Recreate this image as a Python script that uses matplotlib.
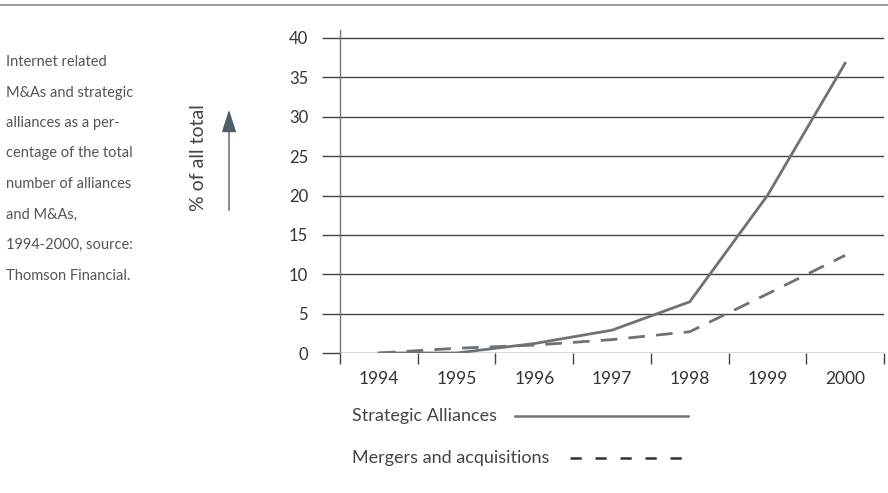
import matplotlib
matplotlib.use("Agg")
import matplotlib.pyplot as plt
import numpy as np

plt.rcParams['font.family'] = ['Lato', 'DejaVu Sans']

years = ['1994', '1995', '1996', '1997', '1998', '1999', '2000']
alliances = [0.0, 0.0, 1.2, 2.9, 6.5, 20.0, 36.8]
mergers = [0.0, 0.6, 1.0, 1.7, 2.7, 7.5, 12.4]
yticks = [0, 5, 10, 15, 20, 25, 30, 35, 40]

caption = ["Internet related", "M&As and strategic", "alliances as a per-",
           "centage of the total", "number of alliances", "and M&As,",
           "1994-2000, source:", "Thomson Financial."]

text_col = '#555555'
line_col = '#6c7276'
grid_col = '#444444'

fig = plt.figure(figsize=(8.88, 4.93), dpi=100)
W, H = 888, 493
ymax = 40 + 8 / 7.875
ax = fig.add_axes([340 / W, 1 - 353 / H, (884 - 340) / W, (353 - 30) / H])

x = np.arange(len(years))
ax.plot(x, alliances, color=line_col, lw=2.0, solid_joinstyle='miter')
ax.plot(x, mergers, color=line_col, lw=2.0, dashes=(6, 4))

ax.set_xlim(-0.5, len(years) - 0.5)
ax.set_ylim(0, ymax)
ax.set_yticks(yticks)
ax.set_yticklabels([str(v) for v in yticks], fontsize=12, color='#333333')
ax.tick_params(axis='y', length=13, width=1, color=grid_col, pad=10)
for v in yticks:
    ax.axhline(v, color=grid_col, lw=1.0, zorder=0)

# category boundaries carry the tick marks, labels sit between them
ax.set_xticks(np.arange(-0.5, len(years)), minor=False)
ax.set_xticklabels([])
ax.set_xticks(x, minor=True)
ax.set_xticklabels(years, minor=True, fontsize=12.5, color='#333333')
ax.tick_params(axis='x', which='major', length=8, width=1, color=grid_col, direction='out')
ax.tick_params(axis='x', which='minor', length=0, pad=13)

for s in ['top', 'right', 'bottom']:
    ax.spines[s].set_visible(False)
ax.spines['left'].set_color('#777777')
ax.spines['left'].set_linewidth(1.0)

# thin rule across the top of the page
fig.add_artist(plt.Line2D([0, 1], [1 - 5 / H, 1 - 5 / H], color='#888888', lw=1.2))

for i, line in enumerate(caption):
    fig.text(6 / W, 1 - (62 + i * 30.5) / H, line, fontsize=10.5, color=text_col, va='center')

fig.text(199 / W, 1 - 158 / H, "% of all total", rotation=90, fontsize=14,
         color='#444444', ha='center', va='center')
fig.add_artist(matplotlib.patches.FancyArrowPatch(
    (229 / W, 1 - 213 / H), (229 / W, 1 - 107 / H), transform=fig.transFigure,
    arrowstyle='-|>,head_length=14,head_width=4.5', color='#4e5e68', lw=1.0,
    mutation_scale=1))

# legend drawn by hand below the axis
fig.text(352 / W, 1 - 416 / H, "Strategic Alliances", fontsize=13, color='#444444', va='center')
fig.add_artist(plt.Line2D([515 / W, 688 / W], [1 - 416 / H, 1 - 416 / H],
                          color=line_col, lw=1.8))
fig.text(352 / W, 1 - 458 / H, "Mergers and acquisitions", fontsize=13, color='#444444', va='center')
fig.add_artist(plt.Line2D([570 / W, 688 / W], [1 - 458 / H, 1 - 458 / H],
                          color='#333333', lw=1.8, dashes=(4.5, 5.5)))

fig.savefig('out.png', dpi=100)
